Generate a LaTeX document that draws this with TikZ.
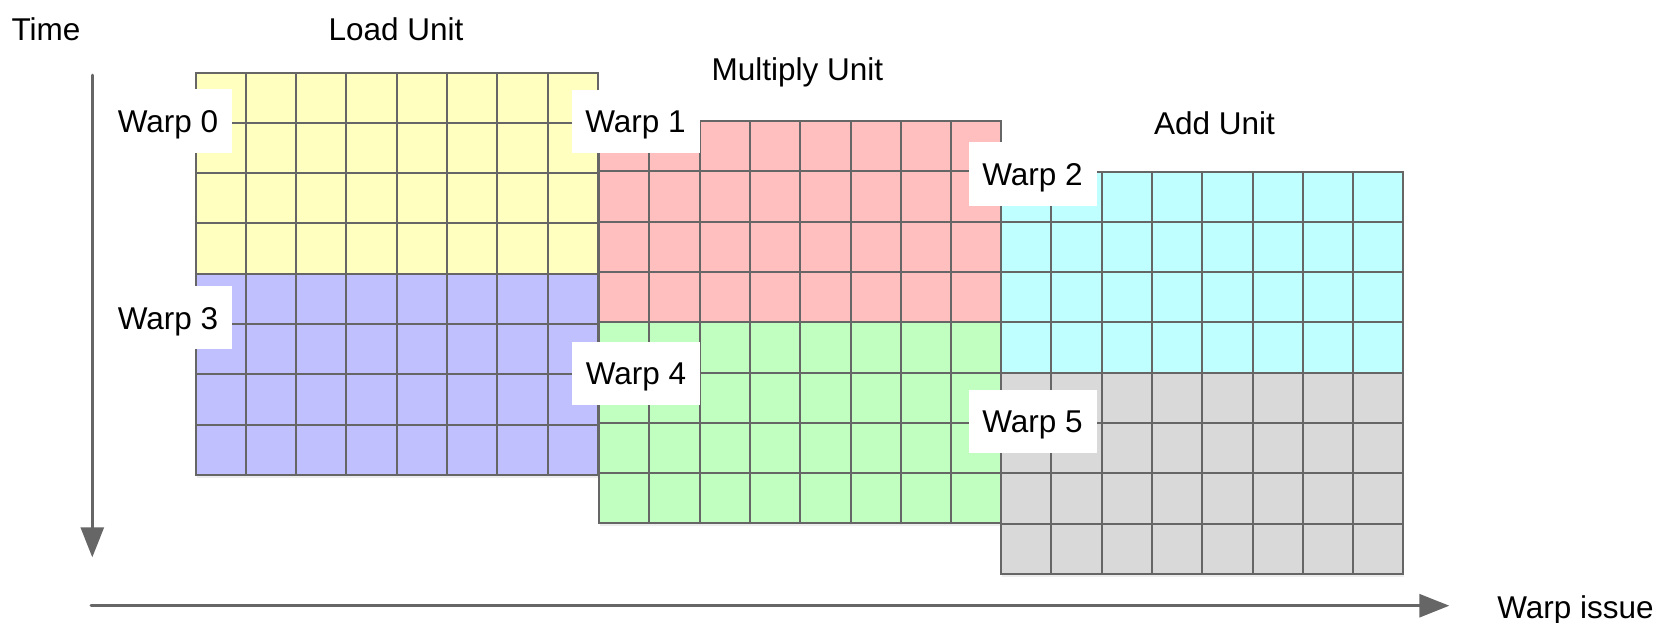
\documentclass[tikz,border=0pt]{standalone}
\usepackage{fontspec}
\setmainfont{Liberation Sans}
\usetikzlibrary{arrows.meta}
\definecolor{gridline}{HTML}{666666}
\definecolor{cyellow}{HTML}{FFFFC0}
\definecolor{cred}{HTML}{FFBFBF}
\definecolor{ccyan}{HTML}{C0FFFF}
\definecolor{cblue}{HTML}{C0C0FF}
\definecolor{cgreen}{HTML}{C0FFC0}
\definecolor{cgray}{HTML}{D9D9D9}
\newcommand\wfont{\fontsize{31.5pt}{37pt}\selectfont}
\newcommand\cs{50.3}
\newcommand\unitgrid[4]{%
  \fill[black,opacity=0.07] (#1+1,#2+3) rectangle ++(8*\cs,8*\cs);
  \fill[#3] (#1,#2) rectangle ++(8*\cs,4*\cs);
  \fill[#4] (#1,#2+4*\cs) rectangle ++(8*\cs,4*\cs);
  \foreach \i in {1,...,7} {\draw[gridstroke] (#1+\i*\cs,#2) -- ++(0,8*\cs);}
  \foreach \j in {1,...,7} {\draw[gridstroke] (#1,#2+\j*\cs) -- ++(8*\cs,0);}
  \draw[gridstroke] (#1,#2) rectangle ++(8*\cs,8*\cs);
}
\tikzset{
  gridstroke/.style={draw=gridline,line width=2pt},
  warplabel/.style={fill=white,inner sep=0pt,minimum width=128pt,minimum height=63.5pt,
    text height=22.6pt,text depth=0pt,align=center,font=\wfont},
  title/.style={inner sep=0pt,anchor=base,font=\wfont},
  axis/.style={draw=gridline,line width=3pt,line cap=round,-{Triangle[length=30pt,width=23pt]}}
}
\begin{document}
\begin{tikzpicture}[x=1pt,y=-1pt]
\useasboundingbox (0,0) rectangle (1660,622);
% grids
\unitgrid{195.5}{72.5}{cyellow}{cblue}
\unitgrid{599}{121}{cred}{cgreen}
\unitgrid{1001}{171.5}{ccyan}{cgray}
% titles
\node[title] (time) at (46,40.7) {Time};
\node[title] (load) at (396,40.7) {Load Unit};
\node[title] (mult) at (797.5,80.7) {Multiply Unit};
\node[title] (add) at (1214.5,134) {Add Unit};
\node[title] (issue) at (1575.5,618) {Warp issue};
% warp labels
\node[warplabel] (w0) at (168,121) {Warp 0};
\node[warplabel] (w1) at (635.5,121.5) {Warp 1};
\node[warplabel] (w2) at (1032.5,174) {Warp 2};
\node[warplabel] (w3) at (168,317.7) {Warp 3};
\node[warplabel] (w4) at (636,373.3) {Warp 4};
\node[warplabel] (w5) at (1032.5,421.3) {Warp 5};
% axes
\coordinate (tstart) at (92.3,75);
\coordinate (tend) at (92.3,557.3);
\coordinate (istart) at (91,605.7);
\coordinate (iend) at (1449.3,605.7);
\draw[axis] (tstart) -- (tend);
\draw[axis] (istart) -- (iend);
\end{tikzpicture}
\end{document}
